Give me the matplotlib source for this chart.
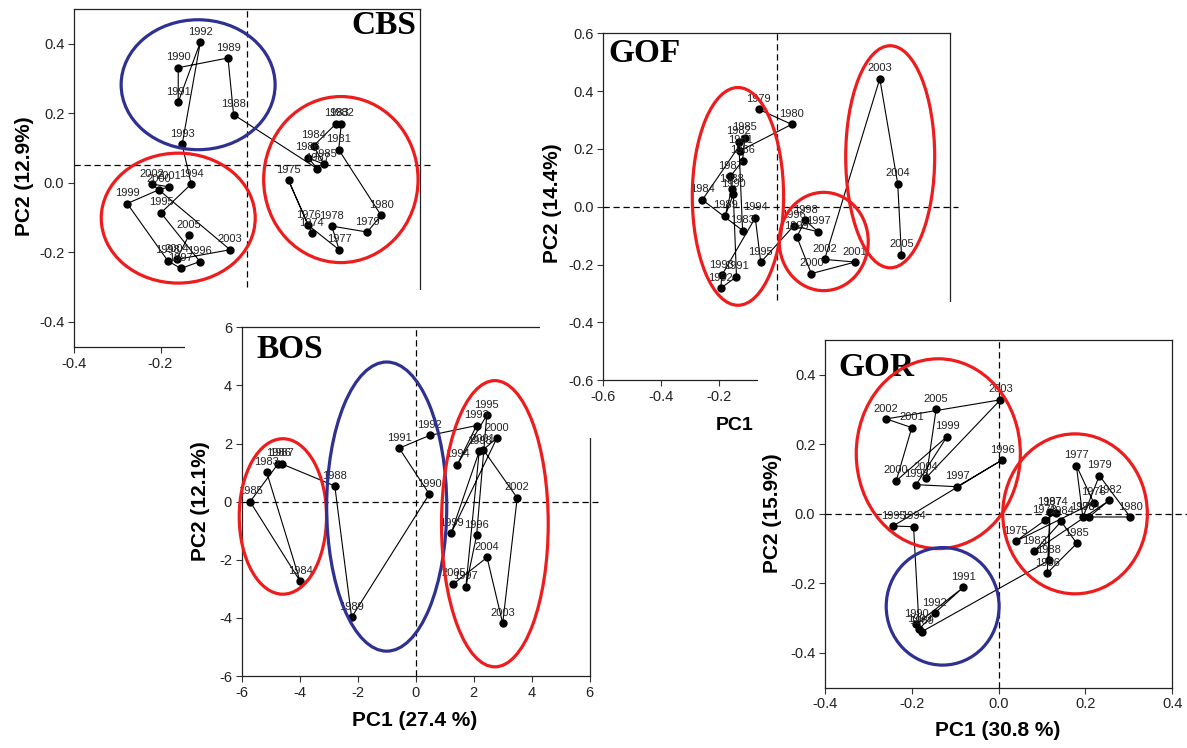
import matplotlib
matplotlib.use("Agg")
import matplotlib.pyplot as plt
from matplotlib.patches import Ellipse, Rectangle

plt.rcParams['font.family'] = ['Liberation Sans', 'DejaVu Sans']
plt.rcParams['axes.unicode_minus'] = False

W, H = 1187, 748

# ---- CBS ----
cbs_years = list(range(1974, 2006))
cbs_pc1 = [0.150, 0.096, 0.141, 0.213, 0.196, 0.278, 0.310, 0.212, 0.218, 0.206,
           0.154, 0.178, 0.141, 0.163, -0.031, -0.044, -0.159, -0.159, -0.108, -0.150,
           -0.129, -0.199, -0.109, -0.153, -0.183, -0.277, -0.203, -0.180, -0.220, -0.039,
           -0.163, -0.134]
cbs_pc2 = [-0.145, 0.007, -0.122, -0.193, -0.125, -0.142, -0.094, 0.095, 0.170, 0.170,
           0.106, 0.053, 0.072, 0.040, 0.196, 0.359, 0.331, 0.232, 0.404, 0.110,
           -0.004, -0.087, -0.227, -0.247, -0.225, -0.060, -0.020, -0.012, -0.004, -0.193,
           -0.221, -0.151]
cbs_groups = [(-0.113, 0.282, 0.356, 0.374, 'blue'),
              (-0.159, -0.102, 0.356, 0.374, 'red'),
              (0.217, 0.009, 0.357, 0.478, 'red')]

# ---- GOF ----
gof_years = list(range(1979, 2006))
gof_pc1 = [-0.062, 0.052, -0.126, -0.131, -0.118, -0.257, -0.110, -0.118, -0.160, -0.156,
           -0.178, -0.150, -0.139, -0.193, -0.190, -0.074, -0.055, 0.059, 0.143, 0.099,
           0.070, 0.120, 0.272, 0.166, 0.357, 0.419, 0.432]
gof_pc2 = [0.337, 0.285, 0.194, 0.225, -0.082, 0.024, 0.239, 0.160, 0.105, 0.061,
           -0.031, 0.043, -0.242, -0.281, -0.237, -0.038, -0.192, -0.066, -0.086, -0.047,
           -0.104, -0.231, -0.191, -0.182, 0.443, 0.080, -0.166]
gof_groups = [(-0.134, 0.036, 0.316, 0.753, 'red'),
              (0.163, -0.120, 0.308, 0.340, 'red'),
              (0.393, 0.173, 0.308, 0.768, 'red')]

# ---- BOS ----
bos_years = list(range(1983, 2006))
bos_pc1 = [-5.14, -3.99, -5.71, -4.74, -4.62, -2.79, -2.21, 0.47, -0.57, 0.48,
           2.10, 1.43, 2.45, 2.10, 1.73, 2.19, 1.22, 2.80, 2.33, 3.50,
           3.00, 2.46, 1.30]
bos_pc2 = [1.02, -2.73, 0.00, 1.31, 1.30, 0.54, -3.98, 0.26, 1.84, 2.28,
           2.62, 1.27, 2.97, -1.16, -2.93, 1.73, -1.09, 2.19, 1.79, 0.13,
           -4.19, -1.92, -2.83]
bos_groups = [(-4.58, -0.51, 3.01, 5.35, 'red'),
              (-1.00, -0.17, 4.14, 9.95, 'blue'),
              (2.73, -0.76, 3.68, 9.85, 'red')]

# ---- GOR ----
gor_years = list(range(1973, 2006))
gor_pc1 = [0.106, 0.131, 0.039, 0.219, 0.179, 0.194, 0.232, 0.303, 0.208, 0.255,
           0.082, 0.144, 0.180, 0.112, 0.118, 0.116, -0.177, -0.190, -0.081, -0.147,
           -0.183, -0.196, -0.243, 0.008, -0.096, -0.190, -0.119, -0.236, -0.200, -0.259,
           0.004, -0.167, -0.144]
gor_pc2 = [-0.018, 0.003, -0.079, 0.032, 0.139, -0.010, 0.110, -0.009, -0.009, 0.039,
           -0.108, -0.022, -0.085, -0.170, 0.004, -0.134, -0.339, -0.318, -0.211, -0.285,
           -0.331, -0.037, -0.035, 0.155, 0.078, 0.084, 0.222, 0.095, 0.248, 0.273,
           0.328, 0.104, 0.301]
gor_groups = [(-0.139, 0.173, 0.378, 0.546, 'red'),
              (0.176, 0.000, 0.333, 0.460, 'red'),
              (-0.129, -0.266, 0.260, 0.338, 'blue')]

COLORS = {'red': '#ee1c1c', 'blue': '#2e3192'}

fig = plt.figure(figsize=(W / 100, H / 100), dpi=100)


def fbox(x0, y0, x1, y1):
    return [x0 / W, 1 - y1 / H, (x1 - x0) / W, (y1 - y0) / H]


def cover(x0, y0, x1, y1, z):
    fig.add_artist(Rectangle((x0 / W, 1 - y1 / H), (x1 - x0) / W, (y1 - y0) / H,
                             transform=fig.transFigure, facecolor='white',
                             edgecolor='none', zorder=z))


def ftext(ax, x, y, s, **kw):
    ax.text(x / W, 1 - y / H, s, transform=fig.transFigure, clip_on=False, **kw)


def panel(box, z, xlim, ylim, xticks, yticks, fmt, years, pc1, pc2, groups, hy, ext):
    ax = fig.add_axes(fbox(*box))
    ax.set_zorder(z)
    ax.set_xlim(xlim)
    ax.set_ylim(ylim)
    ax.set_xticks(xticks)
    ax.set_yticks(yticks)
    ax.set_xticklabels([fmt.format(v) for v in xticks])
    ax.set_yticklabels([fmt.format(v) for v in yticks])
    ax.tick_params(direction='out', length=4, width=0.8, labelsize=10.5, pad=3,
                   color='#333333', labelcolor='#222222')
    for s in ax.spines.values():
        s.set_linewidth(0.9)
        s.set_color('#222222')
    ax.plot([xlim[0], xlim[1] + ext], [hy, hy], ls=(0, (5, 3)), color='k', lw=0.9,
            clip_on=False)
    ax.axvline(0, ls=(0, (5, 3)), color='k', lw=0.9)
    ax.plot(pc1, pc2, '-', color='k', lw=0.8, marker='o', ms=5, mfc='k', mec='k')
    for yr, a, b in zip(years, pc1, pc2):
        ax.annotate(str(yr), (a, b), xytext=(0, 7.5), textcoords='offset points',
                    ha='center', va='center', fontsize=8, color='#222222')
    for cx, cy, w, h, c in groups:
        ax.add_patch(Ellipse((cx, cy), w, h, fill=False, ec=COLORS[c], lw=2.3,
                             clip_on=False, zorder=5))
    return ax


title_kw = dict(fontsize=24, fontweight='bold', family='Liberation Serif', va='center')
lab_kw = dict(fontsize=15, fontweight='bold', va='center', ha='center')

# CBS (bottom layer)
ax = panel((74, 9, 420, 347), 1, (-0.4, 0.4), (-0.473, 0.5),
           [-0.4, -0.2, 0.0, 0.2, 0.4], [-0.4, -0.2, 0.0, 0.2, 0.4], '{:.1f}',
           cbs_years, cbs_pc1, cbs_pc2, cbs_groups, 0.05, 0.023)
ftext(ax, 416, 26, 'CBS', ha='right', **title_kw)
ftext(ax, 24, 176, 'PC2 (12.9%)', rotation=90, **lab_kw)

# BOS
cover(185, 290, 612, 748, 2)
ax = panel((241.7, 327.3, 589.7, 676), 3, (-6, 6), (-6, 6),
           [-6, -4, -2, 0, 2, 4, 6], [-6, -4, -2, 0, 2, 4, 6], '{:d}',
           bos_years, bos_pc1, bos_pc2, bos_groups, 0, 0.28)
ftext(ax, 256, 349, 'BOS', ha='left', **title_kw)
ftext(ax, 201, 501, 'PC2 (12.1%)', rotation=90, **lab_kw)
ftext(ax, 415, 721, 'PC1 (27.4 %)', **lab_kw)

# GOF
cover(540, 0, 1187, 438, 4)
ax = panel((603.3, 33.3, 950, 380.3), 5, (-0.6, 0.6), (-0.6, 0.6),
           [-0.6, -0.4, -0.2, 0.0, 0.2, 0.4, 0.6], [-0.6, -0.4, -0.2, 0.0, 0.2, 0.4, 0.6],
           '{:.1f}', gof_years, gof_pc1, gof_pc2, gof_groups, 0, 0.028)
ftext(ax, 608, 53, 'GOF', ha='left', **title_kw)
ftext(ax, 553, 203, 'PC2 (14.4%)', rotation=90, **lab_kw)
ftext(ax, 735, 426, 'PC1', fontsize=14, fontweight='bold', va='center', ha='center')

# GOR
cover(758, 302, 1187, 748, 6)
ax = panel((825, 340, 1172.3, 687.7), 7, (-0.4, 0.4), (-0.5, 0.5),
           [-0.4, -0.2, 0.0, 0.2, 0.4], [-0.4, -0.2, 0.0, 0.2, 0.4], '{:.1f}',
           gor_years, gor_pc1, gor_pc2, gor_groups, 0, 0.035)
ftext(ax, 838, 367, 'GOR', ha='left', **title_kw)
ftext(ax, 773, 513, 'PC2 (15.9%)', rotation=90, **lab_kw)
ftext(ax, 998, 731, 'PC1 (30.8 %)', **lab_kw)

fig.savefig('out.png', dpi=100, facecolor='white')
